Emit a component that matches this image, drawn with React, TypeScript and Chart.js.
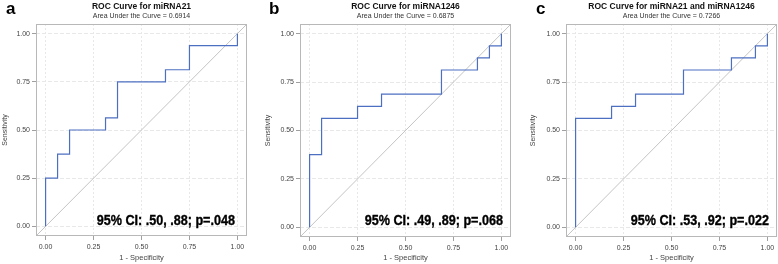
import React, { useEffect, useRef } from 'react';
import { Chart, registerables } from 'chart.js';
Chart.register(...registerables);

const panelLetters = ['a', 'b', 'c'];
const titles = ['ROC Curve for miRNA21', 'ROC Curve for miRNA1246', 'ROC Curve for miRNA21 and miRNA1246'];
const aucLabels = ['Area Under the Curve = 0.6914', 'Area Under the Curve = 0.6875', 'Area Under the Curve = 0.7266'];
const ciLabels = ['95% CI: .50, .88; p=.048', '95% CI: .49, .89; p=.068', '95% CI: .53, .92; p=.022'];
const tickValues = [0, 0.25, 0.5, 0.75, 1];
const tickLabels = ['0.00', '0.25', '0.50', '0.75', '1.00'];
const axisRange = [-0.05, 1.05];

// ROC operating points (1 - specificity, sensitivity)
const fprA = [0, 0, 0.0625, 0.125, 0.3125, 0.375, 0.625, 0.75, 1];
const tprA = [0, 0.25, 0.375, 0.5, 0.5625, 0.75, 0.8125, 0.9375, 1];
const fprB = [0, 0, 0.0625, 0.25, 0.375, 0.6875, 0.875, 0.9375, 1];
const tprB = [0, 0.375, 0.5625, 0.625, 0.6875, 0.8125, 0.875, 0.9375, 1];
const fprC = [0, 0, 0.1875, 0.3125, 0.5625, 0.8125, 0.9375, 1];
const tprC = [0, 0.5625, 0.625, 0.6875, 0.8125, 0.875, 0.9375, 1];

const fprs = [fprA, fprB, fprC];
const tprs = [tprA, tprB, tprC];

const FONT = "'Liberation Sans', Arial, sans-serif";

const layouts = [
  { left: 0, width: 259, padL: 0, padR: 12, padT: 24, yW: 36, xH: 28, letterX: 6, ciRight: 12 },
  { left: 259, width: 259, padL: 4, padR: 7, padT: 24, yW: 37, xH: 27, letterX: 10, ciRight: 8 },
  { left: 518, width: 260, padL: 10, padR: 1, padT: 24, yW: 38, xH: 27, letterX: 18, ciRight: 8 },
];

function Panel({ idx }: { idx: number }) {
  const ref = useRef<HTMLCanvasElement | null>(null);
  const L = layouts[idx];
  useEffect(() => {
    if (!ref.current) return;
    const textPlugin = {
      id: 'texts' + idx,
      afterDatasetsDraw(chart: any) {
        const { ctx, chartArea } = chart;
        ctx.save();
        ctx.strokeStyle = '#b8b8b8';
        ctx.lineWidth = 1;
        ctx.strokeRect(
          Math.round(chartArea.left) + 0.5,
          Math.round(chartArea.top) + 0.5,
          Math.round(chartArea.right - chartArea.left) - 1,
          Math.round(chartArea.bottom - chartArea.top) - 1
        );
        ctx.restore();
      },
      afterDraw(chart: any) {
        const { ctx, chartArea } = chart;
        const cx = (chartArea.left + chartArea.right) / 2;
        ctx.save();
        ctx.fillStyle = '#000';
        ctx.textBaseline = 'alphabetic';
        ctx.textAlign = 'left';
        ctx.font = `bold 17px ${FONT}`;
        ctx.fillText(panelLetters[idx], L.letterX, 14);
        ctx.textAlign = 'center';
        ctx.font = `bold 8.5px ${FONT}`;
        ctx.fillStyle = '#111';
        ctx.fillText(titles[idx], cx, 9);
        ctx.font = `7px ${FONT}`;
        ctx.fillStyle = '#333';
        ctx.fillText(aucLabels[idx], cx, 17.5);
        // CI annotation, slightly condensed heavy bold
        ctx.translate(chartArea.right - L.ciRight, 224.5);
        ctx.scale(0.9, 1);
        ctx.textAlign = 'right';
        ctx.font = `bold 14px ${FONT}`;
        ctx.fillStyle = '#000';
        ctx.strokeStyle = '#000';
        ctx.lineWidth = 0.35;
        ctx.fillText(ciLabels[idx], 0, 0);
        ctx.strokeText(ciLabels[idx], 0, 0);
        ctx.restore();
      },
    };
    const roc = fprs[idx].map((x, i) => ({ x, y: tprs[idx][i] }));
    const diag = axisRange.map((v) => ({ x: v, y: v }));
    const tickFont = { family: FONT, size: 7 };
    const chart = new Chart(ref.current, {
      type: 'line',
      data: {
        datasets: [
          {
            data: roc,
            borderColor: '#4d6fc1',
            borderWidth: 1.2,
            pointRadius: 0,
            stepped: true,
            fill: false,
          },
          {
            data: diag,
            borderColor: '#c4c4c4',
            borderWidth: 1,
            pointRadius: 0,
            fill: false,
          },
        ],
      },
      options: {
        animation: false,
        responsive: false,
        devicePixelRatio: 1,
        parsing: false,
        layout: { padding: { left: L.padL, right: L.padR, top: L.padT, bottom: 0 } },
        plugins: { legend: { display: false }, tooltip: { enabled: false }, title: { display: false } },
        scales: {
          x: {
            type: 'linear',
            min: axisRange[0],
            max: axisRange[1],
            afterBuildTicks: (s: any) => {
              s.ticks = tickValues.map((v) => ({ value: v }));
            },
            afterFit: (s: any) => {
              s.height = L.xH;
            },
            ticks: {
              autoSkip: false,
              maxRotation: 0,
              padding: 3,
              font: tickFont,
              color: '#444',
              callback: (v: any) => tickLabels[tickValues.indexOf(Number(v))] ?? '',
            },
            grid: { color: '#e8e8e8', tickColor: '#a0a0a0', tickLength: 4, lineWidth: 1 },
            border: { display: false, dash: [2, 2] },
            title: {
              display: true,
              text: '1 - Specificity',
              font: { family: FONT, size: 7.5 },
              color: '#444',
              padding: { top: 0, bottom: 2 },
            },
          },
          y: {
            type: 'linear',
            min: axisRange[0],
            max: axisRange[1],
            afterBuildTicks: (s: any) => {
              s.ticks = tickValues.map((v) => ({ value: v }));
            },
            afterFit: (s: any) => {
              s.width = L.yW;
            },
            ticks: {
              autoSkip: false,
              padding: 2,
              font: tickFont,
              color: '#444',
              callback: (v: any) => tickLabels[tickValues.indexOf(Number(v))] ?? '',
            },
            grid: { color: '#e8e8e8', tickColor: '#a0a0a0', tickLength: 4, lineWidth: 1 },
            border: { display: false, dash: [4, 2] },
            title: {
              display: true,
              text: 'Sensitivity',
              font: { family: FONT, size: 7 },
              color: '#444',
              padding: { top: 1, bottom: 0 },
            },
          },
        },
      },
      plugins: [textPlugin],
    } as any);
    return () => chart.destroy();
  }, [idx]);
  return (
    <div style={{ position: 'absolute', left: L.left, top: 0, width: L.width, height: 264 }}>
      <canvas ref={ref} width={L.width} height={264} style={{ width: L.width, height: 264, display: 'block' }} />
    </div>
  );
}

export default function App() {
  return (
    <div style={{ position: 'fixed', left: 0, top: 0, width: 778, height: 264, background: '#fff', overflow: 'hidden' }}>
      <Panel idx={0} />
      <Panel idx={1} />
      <Panel idx={2} />
    </div>
  );
}
